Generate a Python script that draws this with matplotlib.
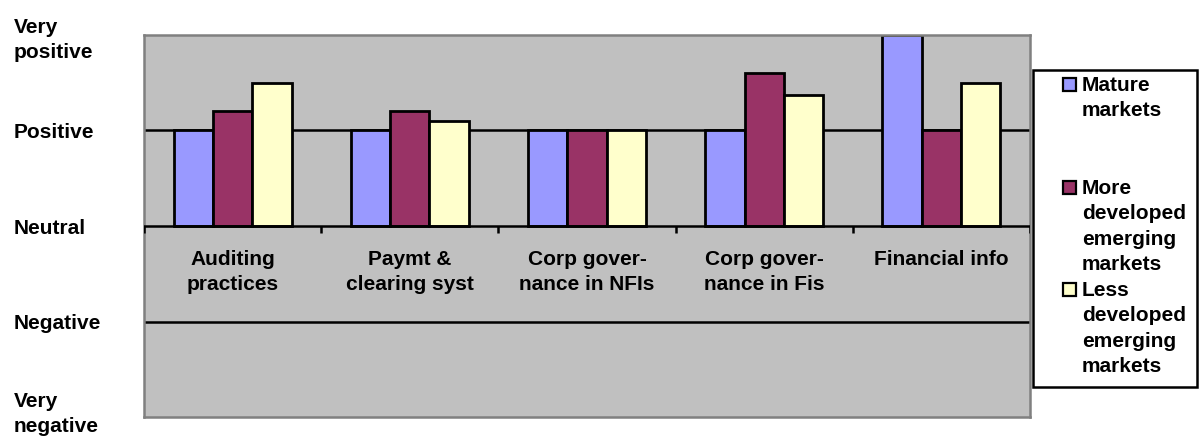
import matplotlib
matplotlib.use("Agg")
import matplotlib.pyplot as plt
import numpy as np
from matplotlib.patches import Rectangle
import matplotlib.transforms as mtransforms

categories = ["Auditing\npractices", "Paymt &\nclearing syst", "Corp gover-\nnance in NFIs",
              "Corp gover-\nnance in Fis", "Financial info"]
series_names = ["Mature\nmarkets", "More\ndeveloped\nemerging\nmarkets", "Less\ndeveloped\nemerging\nmarkets"]
mature = [1.0, 1.0, 1.0, 1.0, 2.0]
more_developed = [1.2, 1.2, 1.0, 1.6, 1.0]
less_developed = [1.5, 1.1, 1.0, 1.37, 1.5]
scale_values = [-2, -1, 0, 1, 2]
scale_labels = ["Very\nnegative", "Negative", "Neutral", "Positive", "Very\npositive"]

colors = ["#9999FF", "#993366", "#FFFFCC"]
plt.rcParams["font.family"] = ["Liberation Sans", "DejaVu Sans"]
plt.rcParams["font.weight"] = "bold"
FS = 15
LS = 1.42

W, H = 1202, 436
fig = plt.figure(figsize=(W / 100, H / 100), dpi=100)
ax = fig.add_axes([144 / W, (H - 417) / H, (1030 - 144) / W, (417 - 35) / H])
ax.set_facecolor("#C0C0C0")
for s in ax.spines.values():
    s.set_color("#808080")
    s.set_linewidth(1.8)

ax.set_xlim(-0.5, len(categories) - 0.5)
ax.set_ylim(-2, 2)

# gridlines at positive / negative, axis line at neutral
for yv in (1, -1):
    ax.axhline(yv, color="black", lw=1.8, zorder=1)

x = np.arange(len(categories))
bw = 1 / 4.5
for k, vals in enumerate([mature, more_developed, less_developed]):
    ax.bar(x + (k - 1) * bw, vals, width=bw, color=colors[k], edgecolor="black",
           linewidth=2.0, zorder=2)

ax.axhline(0, color="black", lw=1.8, zorder=3)
for b in np.arange(-0.5, len(categories), 1.0):
    ax.plot([b, b], [0, -0.075], color="black", lw=1.8, zorder=3, solid_capstyle="butt")

for i, c in enumerate(categories):
    ax.text(i, -0.25, c, ha="center", va="top", fontsize=FS, fontweight="bold",
            linespacing=LS)

ax.set_xticks([])
ax.set_yticks(scale_values)
ax.set_yticklabels(scale_labels, fontsize=FS, fontweight="bold", ha="left", linespacing=LS)
ax.tick_params(axis="y", length=0, pad=(144 - 14) * 0.72)

# lift the lowest scale label so it stays inside the figure
bottom_label = ax.get_yticklabels()[0]
bottom_label.set_transform(bottom_label.get_transform() +
                           mtransforms.ScaledTranslation(0, 8 / 100, fig.dpi_scale_trans))

# legend drawn in figure pixel coordinates
pix = mtransforms.Affine2D().scale(1 / W, -1 / H).translate(0, 1) + fig.transFigure
fig.patches.append(Rectangle((1033, 70), 164, 317, transform=pix, facecolor="white",
                             edgecolor="black", linewidth=1.8))
entry_y = [85, 188, 290]
for k, name in enumerate(series_names):
    fig.patches.append(Rectangle((1063, entry_y[k] - 7), 13, 13, transform=pix,
                                 facecolor=colors[k], edgecolor="black", linewidth=1.6))
    fig.text(1082, entry_y[k] - 9, name, transform=pix, ha="left", va="top",
             fontsize=FS, fontweight="bold", linespacing=LS)

fig.savefig("out.png", dpi=100)
